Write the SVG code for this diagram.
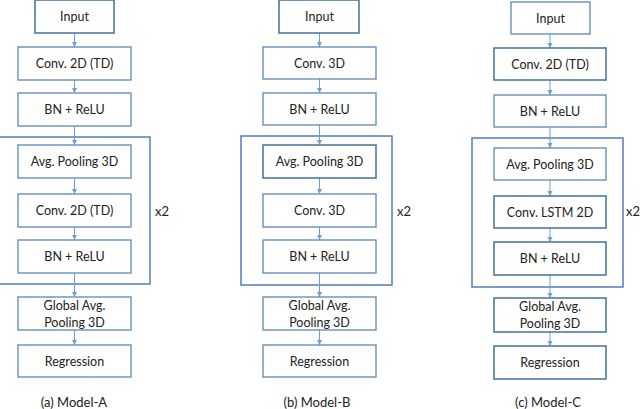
<svg xmlns="http://www.w3.org/2000/svg" width="640" height="409" viewBox="0 0 640 409">
<defs>
<style>
.bx{fill:#fff;stroke:#5b87bd;stroke-width:1.3}
.dk{fill:#fff;stroke:#41719c;stroke-width:1.5}
.ob{fill:none;stroke:#4f7fb8;stroke-width:1.5}
.t{font-family:Lato,"Open Sans",sans-serif;font-size:12.5px;fill:#222;text-anchor:middle}
.c{font-family:Lato,"Open Sans",sans-serif;font-size:13px;fill:#222;text-anchor:middle}
.x{font-family:Lato,"Open Sans",sans-serif;font-size:13px;fill:#222}
.cn{stroke:#6a9fd8;stroke-width:1;fill:none;marker-end:url(#ah)}
</style>
<marker id="ah" markerWidth="6" markerHeight="6" refX="5" refY="3" orient="auto" markerUnits="userSpaceOnUse">
<path d="M0,0.5 L5,3 L0,5.5 Z" fill="#6a9fd8"/>
</marker>
</defs>

<g id="outer-a"><rect class="ob" x="-2" y="137" width="152" height="147"/></g>
<g id="outer-b"><rect class="ob" x="241" y="136" width="151" height="149"/></g>
<g id="outer-c"><rect class="ob" x="472" y="138" width="151" height="149"/></g>

<g id="connectors">
<line class="cn" x1="74.5" y1="33" x2="74.5" y2="47"/>
<line class="cn" x1="74.5" y1="80" x2="74.5" y2="93"/>
<line class="cn" x1="74.5" y1="126" x2="74.5" y2="145"/>
<line class="cn" x1="74.5" y1="178" x2="74.5" y2="194"/>
<line class="cn" x1="74.5" y1="227" x2="74.5" y2="240"/>
<line class="cn" x1="74.5" y1="273" x2="74.5" y2="297"/>
<line class="cn" x1="74.5" y1="330" x2="74.5" y2="345"/>

<line class="cn" x1="319.5" y1="33" x2="319.5" y2="47"/>
<line class="cn" x1="319.5" y1="79" x2="319.5" y2="93"/>
<line class="cn" x1="319.5" y1="125" x2="319.5" y2="145"/>
<line class="cn" x1="319.5" y1="178" x2="319.5" y2="194"/>
<line class="cn" x1="319.5" y1="227" x2="319.5" y2="240"/>
<line class="cn" x1="319.5" y1="273" x2="319.5" y2="297"/>
<line class="cn" x1="319.5" y1="330" x2="319.5" y2="345"/>

<line class="cn" x1="550" y1="34" x2="550" y2="48"/>
<line class="cn" x1="550" y1="80" x2="550" y2="95"/>
<line class="cn" x1="550" y1="127" x2="550" y2="148"/>
<line class="cn" x1="550" y1="180" x2="550" y2="196"/>
<line class="cn" x1="550" y1="228" x2="550" y2="242"/>
<line class="cn" x1="550" y1="275" x2="550" y2="298"/>
<line class="cn" x1="550" y1="332" x2="550" y2="346"/>
</g>

<!-- Model A -->
<g id="a-input"><rect class="dk" x="35" y="0" width="79" height="33"/><text class="t" x="74.5" y="21">Input</text></g>
<g id="a-conv1"><rect class="bx" x="18" y="47" width="113" height="33"/><text class="t" x="74.5" y="68">Conv. 2D (TD)</text></g>
<g id="a-bn1"><rect class="bx" x="18" y="93" width="113" height="33"/><text class="t" x="74.5" y="114">BN + ReLU</text></g>
<g id="a-pool"><rect class="bx" x="18" y="145" width="113" height="33"/><text class="t" x="74.5" y="166">Avg. Pooling 3D</text></g>
<g id="a-conv2"><rect class="bx" x="18" y="194" width="113" height="33"/><text class="t" x="74.5" y="215">Conv. 2D (TD)</text></g>
<g id="a-bn2"><rect class="bx" x="18" y="240" width="113" height="33"/><text class="t" x="74.5" y="261">BN + ReLU</text></g>
<g id="a-gap"><rect class="bx" x="18" y="297" width="113" height="33"/><text class="t" x="74.5" y="309.5">Global Avg.</text><text class="t" x="74.5" y="327">Pooling 3D</text></g>
<g id="a-reg"><rect class="bx" x="18" y="345" width="113" height="32"/><text class="t" x="74.5" y="365.5">Regression</text></g>
<g id="a-x2"><text class="x" x="155" y="216">x2</text></g>
<g id="a-cap"><text class="c" x="74" y="407">(a) Model-A</text></g>

<!-- Model B -->
<g id="b-input"><rect class="dk" x="279" y="0" width="80" height="33"/><text class="t" x="319.5" y="21">Input</text></g>
<g id="b-conv1"><rect class="bx" x="263" y="47" width="113" height="32"/><text class="t" x="319.5" y="67.5">Conv. 3D</text></g>
<g id="b-bn1"><rect class="bx" x="263" y="93" width="113" height="32"/><text class="t" x="319.5" y="113.5">BN + ReLU</text></g>
<g id="b-pool"><rect class="dk" x="263" y="145" width="113" height="33"/><text class="t" x="319.5" y="166">Avg. Pooling 3D</text></g>
<g id="b-conv2"><rect class="bx" x="263" y="194" width="113" height="33"/><text class="t" x="319.5" y="215">Conv. 3D</text></g>
<g id="b-bn2"><rect class="bx" x="263" y="240" width="113" height="33"/><text class="t" x="319.5" y="261">BN + ReLU</text></g>
<g id="b-gap"><rect class="bx" x="263" y="297" width="113" height="33"/><text class="t" x="319.5" y="309.5">Global Avg.</text><text class="t" x="319.5" y="327">Pooling 3D</text></g>
<g id="b-reg"><rect class="bx" x="263" y="345" width="113" height="32"/><text class="t" x="319.5" y="365.5">Regression</text></g>
<g id="b-x2"><text class="x" x="397" y="216">x2</text></g>
<g id="b-cap"><text class="c" x="317" y="407">(b) Model-B</text></g>

<!-- Model C -->
<g id="c-input"><rect class="bx" x="511" y="2" width="79" height="32"/><text class="t" x="550.5" y="22.5">Input</text></g>
<g id="c-conv1"><rect class="dk" x="494" y="48" width="112" height="32"/><text class="t" x="550" y="68.5">Conv. 2D (TD)</text></g>
<g id="c-bn1"><rect class="bx" x="494" y="95" width="112" height="32"/><text class="t" x="550" y="115.5">BN + ReLU</text></g>
<g id="c-pool"><rect class="bx" x="494" y="148" width="112" height="32"/><text class="t" x="550" y="168.5">Avg. Pooling 3D</text></g>
<g id="c-lstm"><rect class="dk" x="494" y="196" width="112" height="32"/><text class="t" x="550" y="216.5">Conv. LSTM 2D</text></g>
<g id="c-bn2"><rect class="dk" x="494" y="242" width="112" height="33"/><text class="t" x="550" y="263">BN + ReLU</text></g>
<g id="c-gap"><rect class="dk" x="494" y="298" width="112" height="34"/><text class="t" x="550" y="310.5">Global Avg.</text><text class="t" x="550" y="328">Pooling 3D</text></g>
<g id="c-reg"><rect class="dk" x="494" y="346" width="112" height="33"/><text class="t" x="550" y="367">Regression</text></g>
<g id="c-x2"><text class="x" x="626" y="216" font-size="12.5">x2</text></g>
<g id="c-cap"><text class="c" x="548" y="407">(c) Model-C</text></g>
</svg>
